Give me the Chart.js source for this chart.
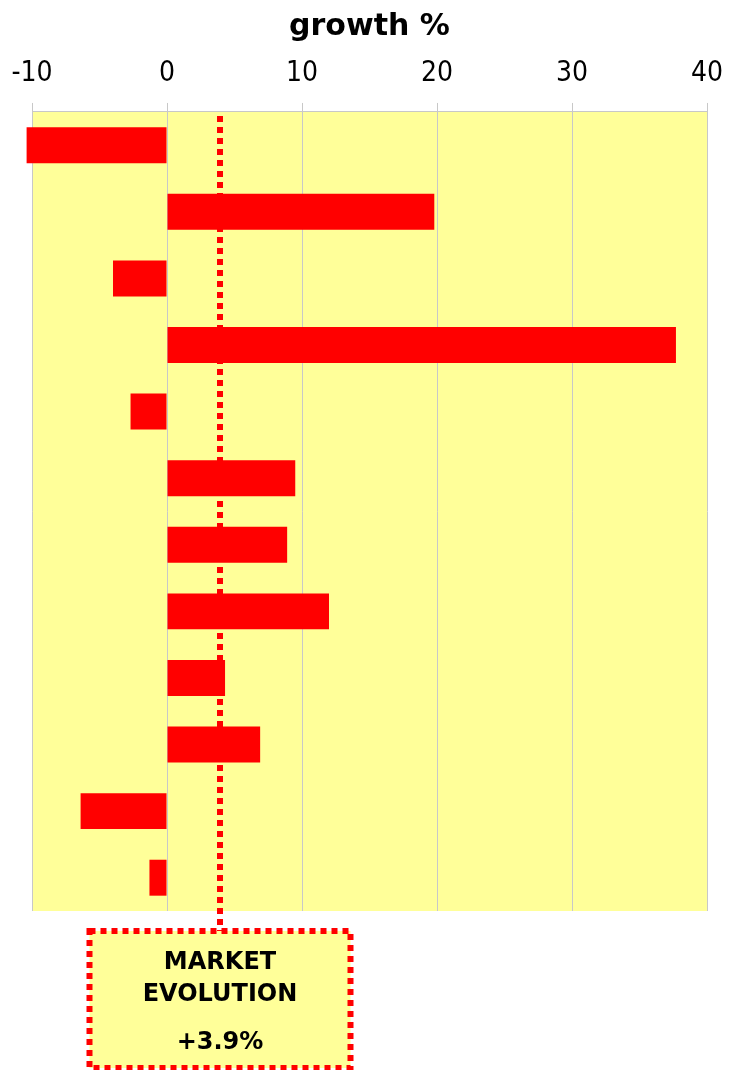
<!DOCTYPE html>
<html>
<head>
<meta charset="utf-8">
<script src="https://cdn.jsdelivr.net/npm/chart.js@4"></script>
<style>
  html, body { margin: 0; padding: 0; background: #fff; }
  #wrap { width: 729px; height: 1070px; position: relative; }
</style>
</head>
<body>
<div id="wrap"><canvas id="growthChart"></canvas></div>
<script>
// rows top to bottom, no visible labels
const rows = ["1", "2", "3", "4", "5", "6", "7", "8", "9", "10", "11", "12"];
const growthValues = [-10.4, 19.8, -4.0, 37.7, -2.7, 9.5, 8.9, 12.0, 4.3, 6.9, -6.4, -1.3];
const xTicks = [-10, 0, 10, 20, 30, 40];
const marketGrowth = 3.9;
const marketLines = ["MARKET", "EVOLUTION"];

const RED = "#ff0000";
const PALE_YELLOW = "#ffff99";

// yellow plot background
const plotBg = {
  id: "plotBg",
  beforeDraw(chart) {
    const { ctx, chartArea: a } = chart;
    ctx.save();
    ctx.fillStyle = PALE_YELLOW;
    ctx.fillRect(a.left, a.top, a.right - a.left, a.bottom - a.top);
    ctx.restore();
  },
};

// dotted market line + callout box under the plot
const marketCallout = {
  id: "marketCallout",
  afterDatasetsDraw(chart) {
    const { ctx, chartArea: a } = chart;
    const x = Math.round(chart.scales.x.getPixelForValue(marketGrowth));
    const boxW = 261, boxH = 137;
    const boxTop = a.bottom + 20;
    const boxLeft = x - boxW / 2;

    ctx.save();
    ctx.strokeStyle = RED;
    ctx.lineWidth = 6;
    ctx.lineCap = "butt";
    ctx.setLineDash([6, 5]);

    ctx.beginPath();
    ctx.moveTo(x, a.top + 4);
    ctx.lineTo(x, boxTop);
    ctx.stroke();

    ctx.fillStyle = PALE_YELLOW;
    ctx.fillRect(boxLeft, boxTop, boxW, boxH);
    ctx.strokeRect(boxLeft, boxTop, boxW, boxH);

    ctx.fillStyle = "#000";
    ctx.textAlign = "center";
    ctx.textBaseline = "middle";
    ctx.font = "bold 24px 'DejaVu Sans', Verdana, sans-serif";
    ctx.fillText(marketLines[0], x, boxTop + 32);
    ctx.fillText(marketLines[1], x, boxTop + 64);
    ctx.fillText("+" + marketGrowth.toFixed(1) + "%", x, boxTop + 112);
    ctx.restore();
  },
};

new Chart(document.getElementById("growthChart"), {
  type: "bar",
  data: {
    labels: rows,
    datasets: [{
      data: growthValues,
      backgroundColor: RED,
      borderWidth: 0,
      categoryPercentage: 1,
      barPercentage: 0.54,
      clip: false, // first bar runs past the -10 edge
    }],
  },
  options: {
    indexAxis: "y",
    responsive: true,
    maintainAspectRatio: false,
    animation: false,
    layout: { padding: { left: 32, right: 22, top: 0, bottom: 159 } },
    plugins: {
      legend: { display: false },
      tooltip: { enabled: false },
      title: {
        display: true,
        text: "growth %",
        color: "#000",
        font: { family: "'DejaVu Sans', Verdana, sans-serif", size: 30, weight: "bold", lineHeight: 1 },
        padding: { top: 12, bottom: 2 },
      },
    },
    scales: {
      x: {
        position: "top",
        min: xTicks[0],
        max: xTicks[xTicks.length - 1],
        afterBuildTicks: axis => { axis.ticks = xTicks.map(v => ({ value: v })); },
        ticks: {
          color: "#000",
          padding: 4,
          font: { family: "'DejaVu Sans Condensed', 'DejaVu Sans', sans-serif", size: 28, lineHeight: 1.82 },
        },
        grid: { color: "#c8c8c8", lineWidth: 1, tickLength: 9 },
        border: { color: "#c8c8c8" },
      },
      y: { display: false },
    },
  },
  plugins: [plotBg, marketCallout],
});
</script>
</body>
</html>
